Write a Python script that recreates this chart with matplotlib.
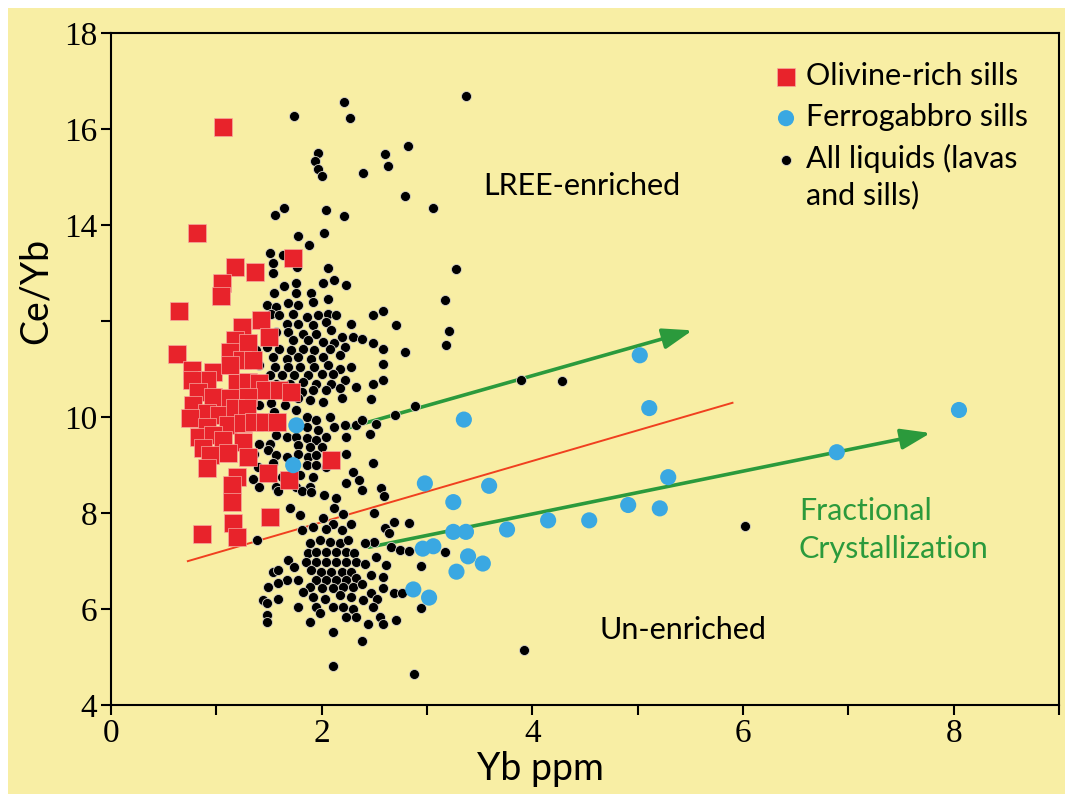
import numpy as np
import matplotlib
matplotlib.use('Agg')
import matplotlib.pyplot as plt
from matplotlib.patches import Rectangle

# Olivine-rich sills (red squares)
oliv_x = [1.06, 0.82, 1.18, 1.37, 1.05, 1.73,
          1.04, 0.65, 1.42, 1.24, 1.50, 1.18, 1.30, 0.63, 1.13, 1.24, 1.35, 0.77,
          0.97, 1.13, 0.91, 0.77, 1.20, 1.30, 1.41, 1.46, 1.60, 1.71, 0.83, 0.97,
          1.13, 1.30, 0.78, 0.91, 1.03, 1.18, 1.29, 0.75, 1.11, 1.25, 1.36, 1.46,
          1.58, 0.91, 0.84, 0.97, 1.06, 1.25, 0.87, 0.94, 1.11, 1.30, 0.91, 1.49,
          2.09, 1.20, 1.69, 1.15,
          1.15, 1.51, 1.16, 0.86, 1.20]
oliv_y = [16.04, 13.83, 13.13, 13.02, 12.79, 13.31,
          12.52, 12.21, 12.02, 11.88, 11.67, 11.60, 11.54, 11.31, 11.35, 11.19, 11.19, 10.98,
          10.94, 11.08, 10.77, 10.77, 10.71, 10.73, 10.71, 10.56, 10.56, 10.52, 10.52, 10.42,
          10.40, 10.42, 10.25, 10.08, 10.04, 10.19, 10.19, 9.98, 9.83, 9.88, 9.90, 9.90,
          9.90, 9.79, 9.58, 9.63, 9.52, 9.48, 9.35, 9.21, 9.25, 9.17, 8.94, 8.83,
          9.10, 8.75, 8.69, 8.58,
          8.23, 7.92, 7.79, 7.56, 7.50]

# Ferrogabbro sills (blue circles)
ferro_x = [1.76, 1.73, 3.35, 2.98, 3.59, 3.25, 3.25, 3.37, 3.76, 2.96, 3.06, 3.39, 3.53,
           3.28, 2.87, 3.02, 4.15, 4.54, 4.91, 5.21, 5.29, 5.02, 5.11, 6.89, 8.05]
ferro_y = [9.83, 9.00, 9.95, 8.62, 8.57, 8.23, 7.61, 7.61, 7.66, 7.26, 7.31, 7.10, 6.95,
           6.78, 6.41, 6.24, 7.85, 7.85, 8.17, 8.10, 8.75, 11.29, 10.19, 9.27, 10.15]

# All liquids (black dots)
liq_x = [1.74, 1.97, 1.94, 1.97, 2.00, 1.64, 1.56, 2.04, 1.78, 2.02, 1.88, 1.51, 1.54,
         1.54, 1.63, 1.77, 2.06, 2.12, 2.01, 1.64, 1.76,
         2.21, 2.27, 3.37, 2.82, 2.60, 2.63, 2.39, 2.79, 3.06, 2.21, 3.28, 2.23, 3.17,
         2.49, 2.58, 2.71, 3.21,
         1.55, 1.76, 1.90, 2.06, 1.48, 1.57, 1.68, 1.92, 1.78, 1.52, 1.60, 1.73, 1.86,
         1.97, 2.06, 2.14, 1.67, 1.78, 1.92, 2.04, 2.28, 1.57, 1.68, 1.82, 1.95, 2.09,
         2.19, 2.30, 1.54, 1.73, 1.87, 2.01, 2.12, 1.38, 1.48, 1.60, 1.71, 1.82, 1.93,
         2.08, 2.22, 1.54, 1.67, 1.78, 1.90, 2.01, 2.17, 1.41, 1.56, 1.68, 1.79, 1.93,
         2.06, 2.17, 2.28, 1.51, 1.62, 1.74, 1.87, 2.00, 2.11, 1.44, 1.57, 1.70, 1.82,
         1.95, 2.09, 2.22, 1.81, 1.92, 2.04, 2.17, 2.33, 1.41, 1.52, 1.65, 1.78, 1.89,
         2.01, 2.19, 1.55, 1.76, 1.86, 1.95, 2.08, 2.12, 2.22, 2.33, 1.60, 1.86, 1.97,
         1.57, 1.67, 1.76, 1.86, 1.95, 2.04, 2.23, 1.41, 1.51, 1.78, 1.89, 2.00, 1.36,
         1.49, 1.57, 1.67, 1.78, 1.87, 1.95, 2.23, 1.40, 1.54, 1.86, 1.95, 2.04, 2.30,
         1.35, 1.62, 1.79, 1.92, 1.41, 1.57, 1.76, 1.89, 2.23,
         1.59, 1.81, 1.90, 2.02, 2.14, 1.70, 1.79, 2.01, 2.12, 2.20, 2.28, 1.92, 2.11,
         2.19, 2.04, 1.81, 1.39,
         1.89, 1.98, 2.08, 2.17, 2.25, 1.87, 1.95, 2.04, 2.14, 2.23, 2.31, 1.85, 1.95,
         2.04, 2.14, 2.23, 2.33, 1.90, 1.99, 2.09, 2.19, 2.28, 1.95, 2.04, 2.14, 2.23,
         2.33, 1.89, 2.00, 2.11, 2.20, 2.30, 1.92, 2.03, 2.17, 2.28, 1.95, 2.11, 2.20,
         2.30, 2.23, 2.33, 1.89, 1.98,
         1.68, 1.74, 1.54, 1.59, 1.67, 1.78, 1.49, 1.59, 1.44, 1.48, 1.59, 1.78, 1.82,
         1.48, 1.48, 2.11, 2.11,
         2.38, 2.49, 2.58, 2.79, 3.18, 2.58, 2.58, 2.49, 2.47, 2.89, 2.70, 2.38, 2.52,
         2.46, 3.89, 2.49, 2.35, 2.38, 2.56, 2.59, 2.50, 2.69, 2.83,
         4.28, 6.02,
         2.60, 2.64, 2.50, 2.41, 2.66, 2.74, 2.83, 3.17, 2.52, 2.61, 2.94, 2.41, 2.47,
         2.58, 2.38, 2.58, 2.69, 2.76, 2.47, 2.53, 2.39, 2.49, 2.94, 2.55, 2.58, 2.71,
         2.44, 2.38, 2.88, 3.92]
liq_y = [16.27, 15.50, 15.33, 15.17, 15.02, 14.35, 14.21, 14.31, 13.77, 13.83, 13.58, 13.42, 13.21,
         13.00, 13.38, 13.13, 13.10, 12.85, 12.79, 12.73, 12.79,
         16.57, 16.24, 16.69, 15.65, 15.48, 15.24, 15.08, 14.60, 14.36, 14.20, 13.08, 12.75, 12.45,
         12.13, 12.21, 11.92, 11.80,
         12.58, 12.58, 12.58, 12.47, 12.33, 12.30, 12.37, 12.40, 12.33, 12.16, 12.13, 12.16, 12.09,
         12.13, 12.16, 12.13, 11.95, 11.95, 11.92, 11.99, 11.95, 11.78, 11.78, 11.74, 11.74, 11.81,
         11.67, 11.67, 11.61, 11.61, 11.61, 11.57, 11.54, 11.40, 11.47, 11.43, 11.40, 11.43, 11.40,
         11.43, 11.47, 11.26, 11.22, 11.26, 11.22, 11.26, 11.29, 11.08, 11.05, 11.05, 11.05, 11.05,
         11.08, 11.01, 11.05, 10.88, 10.88, 10.88, 10.88, 10.91, 10.91, 10.77, 10.70, 10.70, 10.74,
         10.70, 10.70, 10.77, 10.53, 10.56, 10.56, 10.60, 10.63, 10.25, 10.29, 10.25, 10.39, 10.35,
         10.32, 10.39, 10.11, 10.15, 10.01, 9.94, 10.01, 9.80, 9.83, 9.83, 9.83, 9.80, 9.73,
         9.63, 9.59, 9.59, 9.56, 9.52, 9.59, 9.59, 9.45, 9.45, 9.42, 9.38, 9.38, 9.24,
         9.31, 9.21, 9.17, 9.24, 9.17, 9.21, 9.24, 8.97, 9.04, 9.00, 9.00, 8.97, 8.86,
         8.72, 8.76, 8.79, 8.76, 8.55, 8.55, 8.55, 8.55, 8.62,
         8.46, 8.46, 8.44, 8.37, 8.31, 8.10, 7.96, 7.89, 8.10, 7.99, 7.78, 7.72, 7.78,
         7.65, 7.68, 7.65, 7.44,
         7.37, 7.44, 7.40, 7.37, 7.44, 7.16, 7.20, 7.20, 7.20, 7.20, 7.16, 6.99, 6.99,
         6.99, 6.99, 6.99, 6.99, 6.81, 6.78, 6.78, 6.78, 6.78, 6.60, 6.60, 6.60, 6.60,
         6.64, 6.46, 6.43, 6.43, 6.46, 6.46, 6.26, 6.22, 6.29, 6.26, 6.05, 6.05, 6.05,
         6.01, 5.84, 5.84, 5.74, 5.91,
         7.02, 6.88, 6.78, 6.81, 6.60, 6.60, 6.46, 6.54, 6.19, 6.12, 6.22, 6.05, 6.36,
         5.87, 5.74, 5.53, 4.82,
         11.62, 11.55, 11.43, 11.36, 11.51, 11.10, 10.78, 10.70, 10.38, 10.23, 10.04, 9.95, 9.85,
         9.66, 10.77, 9.05, 8.69, 8.49, 8.53, 8.36, 8.01, 7.82, 7.80,
         10.75, 7.73,
         7.70, 7.58, 7.40, 7.37, 7.30, 7.23, 7.21, 7.19, 7.09, 6.92, 6.90, 6.95, 6.71,
         6.67, 6.53, 6.43, 6.34, 6.34, 6.33, 6.22, 6.19, 6.05, 6.03, 5.84, 5.68, 5.78,
         5.70, 5.34, 4.65, 5.15]

# trend lines (start, end)
trend_x = [0.73, 5.90]
trend_y = [7.00, 10.30]
fc_upper_x = [2.24, 5.52]
fc_upper_y = [9.77, 11.81]
fc_lower_x = [2.45, 7.78]
fc_lower_y = [7.29, 9.67]

xticks = [0, 1, 2, 3, 4, 5, 6, 7, 8, 9]
xticklabels = ['0', '', '2', '', '4', '', '6', '', '8', '']
yticks = [4, 6, 8, 10, 12, 14, 16, 18]
yticklabels = ['4', '6', '8', '10', '', '14', '16', '18']

bg = '#f8eea4'
red = '#e8232b'
blue = '#3aa8e2'
green = '#2b9a3c'
sans = 'Lato'
serif = 'Liberation Serif'

fig = plt.figure(figsize=(10.73, 7.94), dpi=100)
fig.patch.set_facecolor('white')
fig.patches.append(Rectangle((0.0075, 0), 0.985, 0.99, transform=fig.transFigure,
                             facecolor=bg, edgecolor='none', zorder=-10))
ax = fig.add_axes([0.1034, 0.112, 0.8836, 0.846])
ax.set_facecolor(bg)

ax.plot(trend_x, trend_y, color='#f0401f', lw=1.4, zorder=1)
for xs, ys in [(fc_upper_x, fc_upper_y), (fc_lower_x, fc_lower_y)]:
    ax.annotate('', xy=(xs[1], ys[1]), xytext=(xs[0], ys[0]),
                arrowprops=dict(arrowstyle='-|>,head_length=1.0,head_width=0.35',
                                color=green, lw=2.6, shrinkA=0, shrinkB=0,
                                mutation_scale=18), zorder=1)

h_liq = ax.scatter(liq_x, liq_y, s=52, c='black', edgecolors='#d8d4c8',
                   linewidths=0.6, zorder=2, label='All liquids (lavas')
h_oliv = ax.scatter(oliv_x, oliv_y, s=155, marker='s', c=red, edgecolors='#f6a9a0',
                    linewidths=0.5, zorder=3, label='Olivine-rich sills')
h_ferro = ax.scatter(ferro_x, ferro_y, s=135, c=blue, edgecolors='none',
                     zorder=4, label='Ferrogabbro sills')

ax.set_xlim(0, 9)
ax.set_ylim(4, 18)
ax.set_xticks(xticks)
ax.set_xticklabels(xticklabels)
ax.set_yticks(yticks)
ax.set_yticklabels(yticklabels)
ax.tick_params(direction='out', length=7, width=1.5, labelsize=24, pad=3)
for lab in ax.get_xticklabels() + ax.get_yticklabels():
    lab.set_fontfamily(serif)
for sp in ax.spines.values():
    sp.set_linewidth(1.5)

ax.set_xlabel('Yb ppm', fontsize=27, fontfamily=sans)
ax.xaxis.set_label_coords(0.453, -0.068)
ax.set_ylabel('Ce/Yb', fontsize=27, fontfamily=sans)
ax.yaxis.set_label_coords(-0.06, 0.617)

ax.text(3.53, 14.81, 'LREE-enriched', fontsize=22, fontfamily=sans, va='center')
ax.text(4.64, 5.56, 'Un-enriched', fontsize=22, fontfamily=sans, va='center')
ax.text(6.53, 7.65, 'Fractional\nCrystallization', fontsize=22, fontfamily=sans,
        color=green, va='center', linespacing=1.45)

leg = ax.legend(handles=[h_oliv, h_ferro, h_liq], loc='upper left',
                bbox_to_anchor=(0.683, 0.975), frameon=False, handletextpad=0.15,
                labelspacing=0.42, borderaxespad=0, handlelength=1.0,
                prop={'family': sans, 'size': 22})

# second line of the last legend entry
fig.canvas.draw()
bb = leg.get_texts()[2].get_window_extent().transformed(ax.transAxes.inverted())
ax.text(bb.x0, bb.y0 - 0.012, 'and sills)', transform=ax.transAxes, fontsize=22,
        fontfamily=sans, va='top', ha='left')

fig.savefig('out.png', dpi=100, facecolor=fig.get_facecolor())
